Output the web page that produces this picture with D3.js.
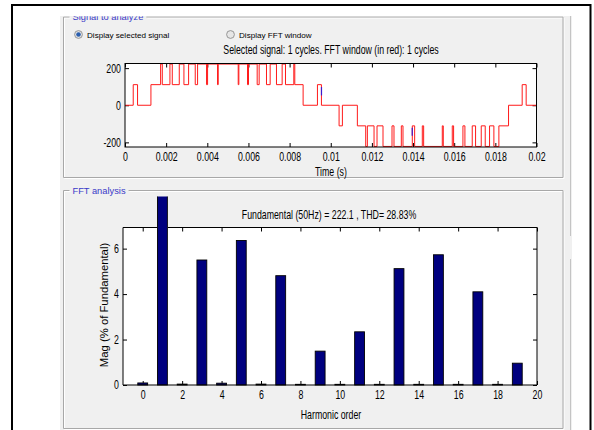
<!DOCTYPE html>
<html><head><meta charset="utf-8">
<script src="https://cdn.jsdelivr.net/npm/d3@7"></script>
<style>
body{margin:0;background:#fff;}
svg{display:block;font-family:"Liberation Sans",Arial,Helvetica,sans-serif;}
</style></head><body>
<svg id="c" width="594" height="430"></svg>
<script>
// ---------- data ----------
const stepTimes = [0, 0.00040, 0.00061, 0.00126, 0.001731, 0.001812, 0.002184, 0.002298, 0.002638, 0.002864,
  0.003091, 0.003414, 0.003528, 0.003964, 0.004013, 0.004498, 0.004531, 0.005502, 0.005534, 0.005955,
  0.006003, 0.006424, 0.006521, 0.006877, 0.007055, 0.007362, 0.007638, 0.007800, 0.008204, 0.008252,
  0.008657, 0.009353, 0.009547, 0.010405, 0.010566, 0.011294, 0.011699, 0.011780, 0.012104, 0.012249,
  0.012540, 0.012977, 0.013074, 0.013430, 0.013511, 0.013964, 0.014078, 0.014450, 0.014515, 0.015421,
  0.015470, 0.015906, 0.015971, 0.016424, 0.016521, 0.016877, 0.017039, 0.017314, 0.017508, 0.017718,
  0.017929, 0.018172, 0.018641, 0.019304, 0.019498, 0.02];
const stepLevels = [0, 111, 0, 111, 222, 111, 222, 111, 222, 111,
  222, 111, 222, 111, 222, 111, 222, 111, 222, 111,
  222, 111, 222, 111, 222, 111, 222, 111, 222, 111,
  0, 111, 0, -111, 0, -111, -222, -111, -222, -111,
  -222, -111, -222, -111, -222, -111, -222, -111, -222, -111,
  -222, -111, -222, -111, -222, -111, -222, -111, -222, -111,
  -222, -111, 0, 111, 0, 0];
const blueMarkTimes = [0.00955, 0.01396];
const blueMarkFrom = [98, -121];
const blueMarkTo = [53, -164];
const timeTicks = [0, 0.002, 0.004, 0.006, 0.008, 0.01, 0.012, 0.014, 0.016, 0.018, 0.02];
const timeTickLabels = ["0", "0.002", "0.004", "0.006", "0.008", "0.01", "0.012", "0.014", "0.016", "0.018", "0.02"];
const signalTicks = [-200, 0, 200];
const signalTickLabels = ["-200", "0", "200"];

const harmonicOrders = [0,1,2,3,4,5,6,7,8,9,10,11,12,13,14,15,16,17,18,19];
const harmonicMags = [0.09, 100, 0.04, 5.50, 0.08, 6.36, 0.04, 4.81, 0.03, 1.49, 0.03, 2.34, 0.03, 5.12, 0.03, 5.73, 0.03, 4.10, 0.03, 0.96];
const harmonicTicks = [0,2,4,6,8,10,12,14,16,18,20];
const magTicks = [0,2,4,6];

const texts = {
  group1: "Signal to analyze",
  group2: "FFT analysis",
  radio1: "Display selected signal",
  radio2: "Display FFT window",
  selected: "Selected signal: 1 cycles. FFT window (in red): 1 cycles",
  xlab1: "Time (s)",
  fftTitle: "Fundamental (50Hz) = 222.1 , THD= 28.83%",
  xlab2: "Harmonic order",
  ylab2: "Mag (% of Fundamental)"
};

// ---------- helpers ----------
const svg = d3.select("#c");
const SQ = 0.72, FS = 12.2;
function squeeze(sel, f) {
  sel.each(function () {
    const L = this.getComputedTextLength();
    this.setAttribute("textLength", L * f);
    this.setAttribute("lengthAdjust", "spacingAndGlyphs");
  });
}

// ---------- window frame ----------
svg.append("rect").attr("x", 0).attr("y", 0).attr("width", 594).attr("height", 430).attr("fill", "#fff");
svg.append("rect").attr("x", 60).attr("y", 16).attr("width", 512).attr("height", 420).attr("fill", "#f0f0f0");
svg.append("line").attr("x1", 570.5).attr("x2", 570.5).attr("y1", 16).attr("y2", 236).attr("stroke", "#c4c4c4");
svg.append("line").attr("x1", 570.5).attr("x2", 570.5).attr("y1", 259).attr("y2", 430).attr("stroke", "#c4c4c4");
svg.append("rect").attr("x", 12).attr("y", 5).attr("width", 578.5).attr("height", 500)
  .attr("fill", "none").attr("stroke", "#000").attr("stroke-width", 2);

const defs = svg.append("defs");
defs.append("clipPath").attr("id", "panelClip").append("rect")
  .attr("x", 60).attr("y", 16.2).attr("width", 512).attr("height", 420);

function groupBox(x, y, w, h, title) {
  const g = svg.append("g").attr("clip-path", "url(#panelClip)");
  const t = g.append("text").attr("x", x + 9).attr("y", y + 3.2)
    .attr("font-size", 9.3).attr("fill", "#3a3ac8").text(title);
  const tw = t.node().getComputedTextLength();
  const gap0 = x + 6, gap1 = x + 10 + tw + 2;
  const p = `M${gap0},${y}H${x}V${y + h}H${x + w}V${y}H${gap1}`;
  g.insert("path", "text").attr("d", p).attr("transform", "translate(1,1)")
    .attr("fill", "none").attr("stroke", "#fff");
  g.insert("path", "text").attr("d", p).attr("fill", "none").attr("stroke", "#a8a8a8");
}
groupBox(63.5, 17, 499.5, 160.5, texts.group1);
groupBox(63.5, 190.5, 499.5, 238, texts.group2);

// radio buttons
function radio(cx, cy, on, label) {
  svg.append("circle").attr("cx", cx).attr("cy", cy).attr("r", 3.9)
    .attr("fill", "#e6e6e6").attr("stroke", "#8c8c8c").attr("stroke-width", 0.9);
  if (on) svg.append("circle").attr("cx", cx).attr("cy", cy).attr("r", 2.3).attr("fill", "#2c5fae");
  svg.append("text").attr("x", cx + 8.5).attr("y", cy + 3).attr("font-size", 8.1).attr("fill", "#000").text(label);
}
radio(78.5, 34.5, true, texts.radio1);
radio(230.5, 34.5, false, texts.radio2);

svg.append("text").attr("x", 331).attr("y", 54).attr("text-anchor", "middle")
  .attr("font-size", FS).text(texts.selected).call(squeeze, SQ);

// ---------- top plot ----------
const T = {l: 125, r: 536.5, t: 63.5, b: 147};
const xT = d3.scaleLinear().domain([0, 0.02]).range([T.l, T.r]);
const yT = d3.scaleLinear().domain([-225, 225]).range([T.b, T.t]);
svg.append("rect").attr("x", T.l).attr("y", T.t).attr("width", T.r - T.l).attr("height", T.b - T.t).attr("fill", "#fff");

function styleAxis(g, labels) {
  g.select(".domain").remove();
  g.selectAll(".tick line").attr("stroke", "#000");
  g.selectAll(".tick text").attr("font-size", FS).attr("fill", "#000").attr("font-family", null);
  if (!labels) g.selectAll(".tick text").remove();
}

const ax1b = svg.append("g").attr("transform", `translate(0,${T.b})`)
  .call(d3.axisBottom(xT).tickValues(timeTicks).tickFormat((d, i) => timeTickLabels[i]).tickSize(-4).tickPadding(5.5));
styleAxis(ax1b, true); squeeze(ax1b.selectAll(".tick text"), SQ);
const ax1t = svg.append("g").attr("transform", `translate(0,${T.t})`)
  .call(d3.axisTop(xT).tickValues(timeTicks).tickSize(-4));
styleAxis(ax1t, false);
const ax1l = svg.append("g").attr("transform", `translate(${T.l},0)`)
  .call(d3.axisLeft(yT).tickValues(signalTicks).tickFormat((d, i) => signalTickLabels[i]).tickSize(-4).tickPadding(4));
styleAxis(ax1l, true); squeeze(ax1l.selectAll(".tick text"), SQ);
const ax1r = svg.append("g").attr("transform", `translate(${T.r},0)`)
  .call(d3.axisRight(yT).tickValues(signalTicks).tickSize(-4));
styleAxis(ax1r, false);

defs.append("clipPath").attr("id", "topClip").append("rect")
  .attr("x", T.l).attr("y", T.t - 1).attr("width", T.r - T.l).attr("height", T.b - T.t + 2);
const sigPts = stepTimes.map((t, i) => [t, stepLevels[i]]);
svg.append("path").datum(sigPts).attr("clip-path", "url(#topClip)")
  .attr("d", d3.line().x(d => xT(d[0])).y(d => yT(d[1])).curve(d3.curveStepAfter))
  .attr("fill", "none").attr("stroke", "#ff1a1a").attr("stroke-width", 1);
svg.selectAll(".bluemark").data(blueMarkTimes).enter().append("line")
  .attr("x1", d => xT(d)).attr("x2", d => xT(d))
  .attr("y1", (d, i) => yT(blueMarkFrom[i])).attr("y2", (d, i) => yT(blueMarkTo[i]))
  .attr("stroke", "#3a1ad0").attr("stroke-width", 1.2);

svg.append("rect").attr("x", T.l).attr("y", T.t).attr("width", T.r - T.l).attr("height", T.b - T.t)
  .attr("fill", "none").attr("stroke", "#000").attr("stroke-width", 1);
svg.append("text").attr("x", 331).attr("y", 175.5).attr("text-anchor", "middle")
  .attr("font-size", FS).text(texts.xlab1).call(squeeze, SQ);

// ---------- FFT plot ----------
const B = {l: 123, r: 537, t: 227.5, b: 385};
const xB = d3.scaleLinear().domain([-1, 20]).range([B.l, B.r]);
const yB = d3.scaleLinear().domain([0, 6.93]).range([B.b, B.t]);
svg.append("rect").attr("x", B.l).attr("y", B.t).attr("width", B.r - B.l).attr("height", B.b - B.t).attr("fill", "#fff");

svg.append("text").attr("x", 329).attr("y", 218.5).attr("text-anchor", "middle")
  .attr("font-size", FS).text(texts.fftTitle).call(squeeze, SQ);

const ax2b = svg.append("g").attr("transform", `translate(0,${B.b})`)
  .call(d3.axisBottom(xB).tickValues(harmonicTicks).tickFormat(d3.format("d")).tickSize(-4).tickPadding(5.5));
styleAxis(ax2b, true); squeeze(ax2b.selectAll(".tick text"), SQ);
const ax2t = svg.append("g").attr("transform", `translate(0,${B.t})`)
  .call(d3.axisTop(xB).tickValues(harmonicTicks).tickSize(-4));
styleAxis(ax2t, false);
const ax2l = svg.append("g").attr("transform", `translate(${B.l},0)`)
  .call(d3.axisLeft(yB).tickValues(magTicks).tickFormat(d3.format("d")).tickSize(-4).tickPadding(4));
styleAxis(ax2l, true); squeeze(ax2l.selectAll(".tick text"), SQ);
const ax2r = svg.append("g").attr("transform", `translate(${B.r},0)`)
  .call(d3.axisRight(yB).tickValues(magTicks).tickSize(-4));
styleAxis(ax2r, false);

defs.append("clipPath").attr("id", "barClip").append("rect")
  .attr("x", 60).attr("y", 196.5).attr("width", 512).attr("height", 240);
const bw = xB(0.25) - xB(-0.25);
svg.append("g").attr("clip-path", "url(#barClip)").selectAll("rect").data(harmonicOrders).enter().append("rect")
  .attr("x", d => xB(d) - bw / 2).attr("width", bw)
  .attr("y", (d, i) => yB(harmonicMags[i])).attr("height", (d, i) => yB(0) - yB(harmonicMags[i]))
  .attr("fill", "#00007f").attr("stroke", "#000").attr("stroke-width", 0.9);

svg.append("path").attr("d", `M${B.l},${B.t}V${B.b}H${B.r}V${B.t}`)
  .attr("fill", "none").attr("stroke", "#000").attr("stroke-width", 1);
svg.append("line").attr("x1", B.l).attr("x2", xB(1) - bw / 2 - 0.5).attr("y1", B.t).attr("y2", B.t).attr("stroke", "#000");
svg.append("line").attr("x1", xB(1) + bw / 2 + 0.5).attr("x2", B.r).attr("y1", B.t).attr("y2", B.t).attr("stroke", "#000");

svg.append("text").attr("x", 331).attr("y", 419).attr("text-anchor", "middle")
  .attr("font-size", FS).text(texts.xlab2).call(squeeze, SQ);
svg.append("text").attr("transform", "translate(107.5,305) rotate(-90)").attr("text-anchor", "middle")
  .attr("font-size", 11.3).text(texts.ylab2);
</script>
</body></html>
